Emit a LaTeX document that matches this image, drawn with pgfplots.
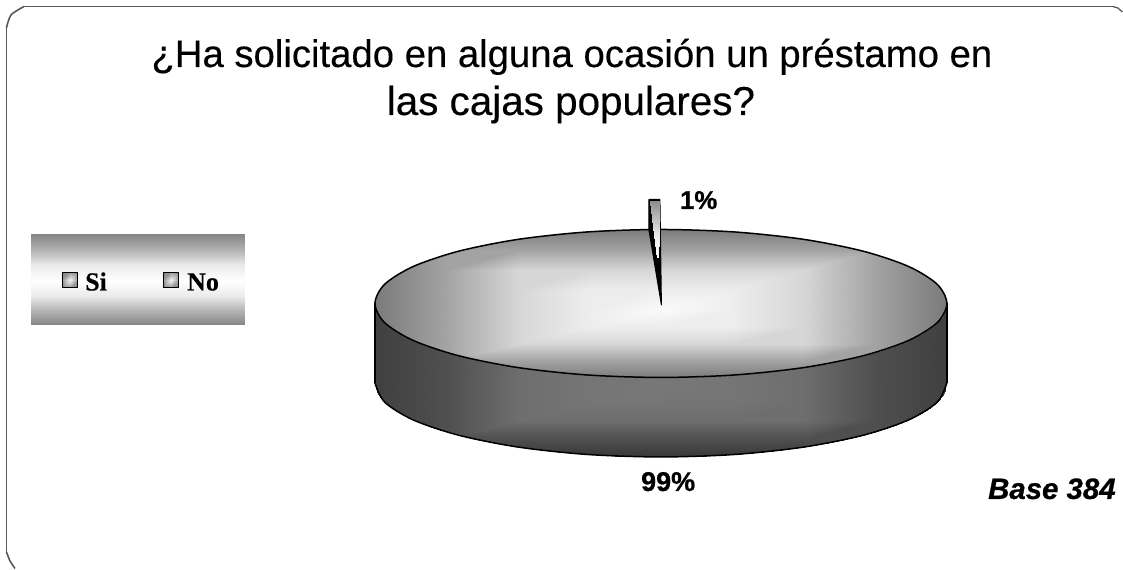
\documentclass[border=0pt]{standalone}
\usepackage{fontspec}
\setmainfont{Liberation Sans}
\newfontfamily\legfont{Liberation Serif}
\usepackage{pgfplots}
\pgfplotsset{compat=1.18}
\begin{document}
\begin{tikzpicture}
\begin{axis}[
  scale only axis, width=1123pt, height=569pt,
  xmin=0, xmax=1123, ymin=0, ymax=569, y dir=reverse,
  hide axis, clip=false,
  colormap={gr}{gray(0cm)=(0); gray(1cm)=(1)},
  point meta min=0, point meta max=1,
  every axis plot/.append style={line join=round},
  grad/.style={surf, shader=interp, point meta=explicit, mesh/ordering=x varies, forget plot},
  outl/.style={black, line width=1.5pt, no marks, forget plot},
]
\path (axis cs:0,0) rectangle (axis cs:1123,569);
% frame
\addplot[color=black!65, line width=1.6pt, no marks, forget plot, smooth, tension=0.5] coordinates {
 (15,568.5) (10,561) (6.5,552)};
\addplot[color=black!65, line width=1.6pt, no marks, forget plot] coordinates {(6.5,552) (6.5,28)};
\addplot[color=black!65, line width=1.6pt, no marks, forget plot, smooth, tension=0.5] coordinates {
 (6.5,28) (11,15) (24,6.5)};
\addplot[color=black!65, line width=1.6pt, no marks, forget plot] coordinates {(24,6.5) (1113,6.5)};
\addplot[color=black!65, line width=1.3pt, no marks, forget plot] coordinates {(1113,6.5) (1118,8) (1122.5,12)};
% legend box
\addplot[grad, mesh/cols=2] coordinates {
 (31.5,234) [.52] (245,234) [.52]
 (31.5,250) [.70] (245,250) [.70]
 (31.5,265) [.92] (245,265) [.92]
 (31.5,281) [1]   (245,281) [1]
 (31.5,296) [.92] (245,296) [.92]
 (31.5,311) [.70] (245,311) [.70]
 (31.5,325) [.52] (245,325) [.52]};
\addplot[grad, mesh/cols=3] coordinates {
 (62,272) [.5] (70,272) [.6] (78,272) [.5]
 (62,280) [.6] (70,280) [.95] (78,280) [.6]
 (62,288) [.5] (70,288) [.6] (78,288) [.5]};
\addplot[grad, mesh/cols=3] coordinates {
 (163,272) [.5] (171,272) [.6] (179,272) [.5]
 (163,280) [.6] (171,280) [.95] (179,280) [.6]
 (163,288) [.5] (171,288) [.6] (179,288) [.5]};
\addplot[black, line width=1.6pt, no marks, forget plot, line join=miter] coordinates {(62.5,272.5) (77.5,272.5) (77.5,287.5) (62.5,287.5) (62.5,272.5) (77.5,272.5)};
\addplot[black, line width=1.6pt, no marks, forget plot, line join=miter] coordinates {(163.5,272.5) (178.5,272.5) (178.5,287.5) (163.5,287.5) (163.5,272.5) (178.5,272.5)};
% pie side (99%)
\begin{scope}
\clip (axis cs:375,303.5) -- (axis cs:375,383) arc[start angle=180, end angle=360, x radius=286pt, y radius=74pt] -- (axis cs:947,303.5) -- cycle;
\addplot[grad, mesh/cols=9] coordinates {
 (375,300)[.25] (446.5,300)[.25] (518,300)[.25] (589.5,300)[.25] (661,300)[.25] (732.5,300)[.25] (804,300)[.25] (875.5,300)[.25] (947,300)[.25]
 (375,321)[.25] (446.5,321)[.31] (518,321)[.31] (589.5,321)[.31] (661,321)[.31] (732.5,321)[.31] (804,321)[.31] (875.5,321)[.31] (947,321)[.25]
 (375,342)[.25] (446.5,342)[.31] (518,342)[.43] (589.5,342)[.43] (661,342)[.43] (732.5,342)[.43] (804,342)[.43] (875.5,342)[.31] (947,342)[.25]
 (375,363)[.25] (446.5,363)[.31] (518,363)[.43] (589.5,363)[.46] (661,363)[.46] (732.5,363)[.46] (804,363)[.43] (875.5,363)[.31] (947,363)[.25]
 (375,385)[.25] (446.5,385)[.31] (518,385)[.43] (589.5,385)[.46] (661,385)[.47] (732.5,385)[.46] (804,385)[.43] (875.5,385)[.31] (947,385)[.25]
 (375,403)[.25] (446.5,403)[.31] (518,403)[.43] (589.5,403)[.46] (661,403)[.46] (732.5,403)[.46] (804,403)[.43] (875.5,403)[.31] (947,403)[.25]
 (375,421)[.25] (446.5,421)[.31] (518,421)[.43] (589.5,421)[.43] (661,421)[.43] (732.5,421)[.43] (804,421)[.43] (875.5,421)[.31] (947,421)[.25]
 (375,439)[.25] (446.5,439)[.31] (518,439)[.31] (589.5,439)[.31] (661,439)[.31] (732.5,439)[.31] (804,439)[.31] (875.5,439)[.31] (947,439)[.25]
 (375,457)[.22] (446.5,457)[.22] (518,457)[.22] (589.5,457)[.22] (661,457)[.22] (732.5,457)[.22] (804,457)[.22] (875.5,457)[.22] (947,457)[.22]};
\end{scope}
% pie top
\begin{scope}
\clip (axis cs:661,303.5) ellipse [x radius=286pt, y radius=74pt];
\addplot[grad, mesh/cols=9] coordinates {
 (375,229.5)[.48] (446.5,229.5)[.48] (518,229.5)[.48] (589.5,229.5)[.48] (661,229.5)[.48] (732.5,229.5)[.48] (804,229.5)[.48] (875.5,229.5)[.48] (947,229.5)[.48]
 (375,249.6)[.48] (446.5,249.6)[.64] (518,249.6)[.64] (589.5,249.6)[.64] (661,249.6)[.64] (732.5,249.6)[.64] (804,249.6)[.64] (875.5,249.6)[.64] (947,249.6)[.48]
 (375,269.8)[.48] (446.5,269.8)[.64] (518,269.8)[.84] (589.5,269.8)[.84] (661,269.8)[.84] (732.5,269.8)[.84] (804,269.8)[.84] (875.5,269.8)[.64] (947,269.8)[.48]
 (375,289.9)[.48] (446.5,289.9)[.64] (518,289.9)[.84] (589.5,289.9)[.93] (661,289.9)[.93] (732.5,289.9)[.93] (804,289.9)[.84] (875.5,289.9)[.64] (947,289.9)[.48]
 (375,310)[.48] (446.5,310)[.64] (518,310)[.84] (589.5,310)[.93] (661,310)[.98] (732.5,310)[.93] (804,310)[.84] (875.5,310)[.64] (947,310)[.48]
 (375,327)[.48] (446.5,327)[.64] (518,327)[.84] (589.5,327)[.93] (661,327)[.93] (732.5,327)[.93] (804,327)[.84] (875.5,327)[.64] (947,327)[.48]
 (375,344)[.48] (446.5,344)[.64] (518,344)[.84] (589.5,344)[.84] (661,344)[.84] (732.5,344)[.84] (804,344)[.84] (875.5,344)[.64] (947,344)[.48]
 (375,361)[.48] (446.5,361)[.64] (518,361)[.64] (589.5,361)[.64] (661,361)[.64] (732.5,361)[.64] (804,361)[.64] (875.5,361)[.64] (947,361)[.48]
 (375,378)[.48] (446.5,378)[.48] (518,378)[.48] (589.5,378)[.48] (661,378)[.48] (732.5,378)[.48] (804,378)[.48] (875.5,378)[.48] (947,378)[.48]};
\end{scope}
% outlines
\addplot[outl, smooth cycle] coordinates {
 (947,303.5) (937.3,284.3) (908.7,266.5) (863.2,251.2) (804,239.4) (735,232) (661,229.5)
 (587,232) (518,239.4) (458.8,251.2) (413.3,266.5) (384.7,284.3) (375,303.5)
 (384.7,322.7) (413.3,340.5) (458.8,355.8) (518,367.6) (587,375) (661,377.5)
 (735,375) (804,367.6) (863.2,355.8) (908.7,340.5) (937.3,322.7)};
\addplot[outl, smooth] coordinates {
 (375,383) (384.7,402.2) (413.3,420) (458.8,435.3) (518,447.1) (587,454.5) (661,457)
 (735,454.5) (804,447.1) (863.2,435.3) (908.7,420) (937.3,402.2) (947,383)};
\addplot[outl] coordinates {(375,303.5) (375,383)};
\addplot[outl] coordinates {(947,303.5) (947,383)};
% 1% slice
\addplot[fill=black, draw=black, line width=1pt, no marks, forget plot] coordinates {
 (649,199.5) (660,199.5) (661.5,305) (649,230) (649,199.5)};
\addplot[grad, mesh/cols=2] coordinates {
 (650.5,201)[.55] (659.2,201)[.55]
 (654,235)[.92] (658.8,235)[.92]
 (657,258)[1] (658,258)[1]};
% texts
\node[anchor=base, inner sep=0pt] at (axis cs:572,67) {\fontsize{38.3}{38.3}\selectfont\addfontfeature{FakeBold=0.25}¿Ha solicitado en alguna ocasión un préstamo en};
\node[anchor=base, inner sep=0pt] at (axis cs:571,115) {\fontsize{40.4}{40.4}\selectfont\addfontfeature{FakeBold=0.25}las cajas populares?};
\node[anchor=base west, inner sep=0pt] at (axis cs:680,209) {\fontsize{25.7}{25.7}\selectfont\bfseries\addfontfeature{FakeBold=0.8}1\%};
\node[anchor=base west, inner sep=0pt] at (axis cs:641,491) {\fontsize{27}{27}\selectfont\bfseries\addfontfeature{FakeBold=0.8}99\%};
\node[anchor=base east, inner sep=0pt] at (axis cs:1116,499) {\fontsize{29.4}{29.4}\selectfont\bfseries\itshape\addfontfeature{FakeBold=0.8}Base 384};
\node[anchor=base west, inner sep=0pt] at (axis cs:85,290.5) {\legfont\fontsize{26}{26}\selectfont\bfseries\addfontfeature{FakeBold=0.5}Si};
\node[anchor=base west, inner sep=0pt] at (axis cs:187,290.5) {\legfont\fontsize{26}{26}\selectfont\bfseries\addfontfeature{FakeBold=0.5}No};
\end{axis}
\end{tikzpicture}
\end{document}
